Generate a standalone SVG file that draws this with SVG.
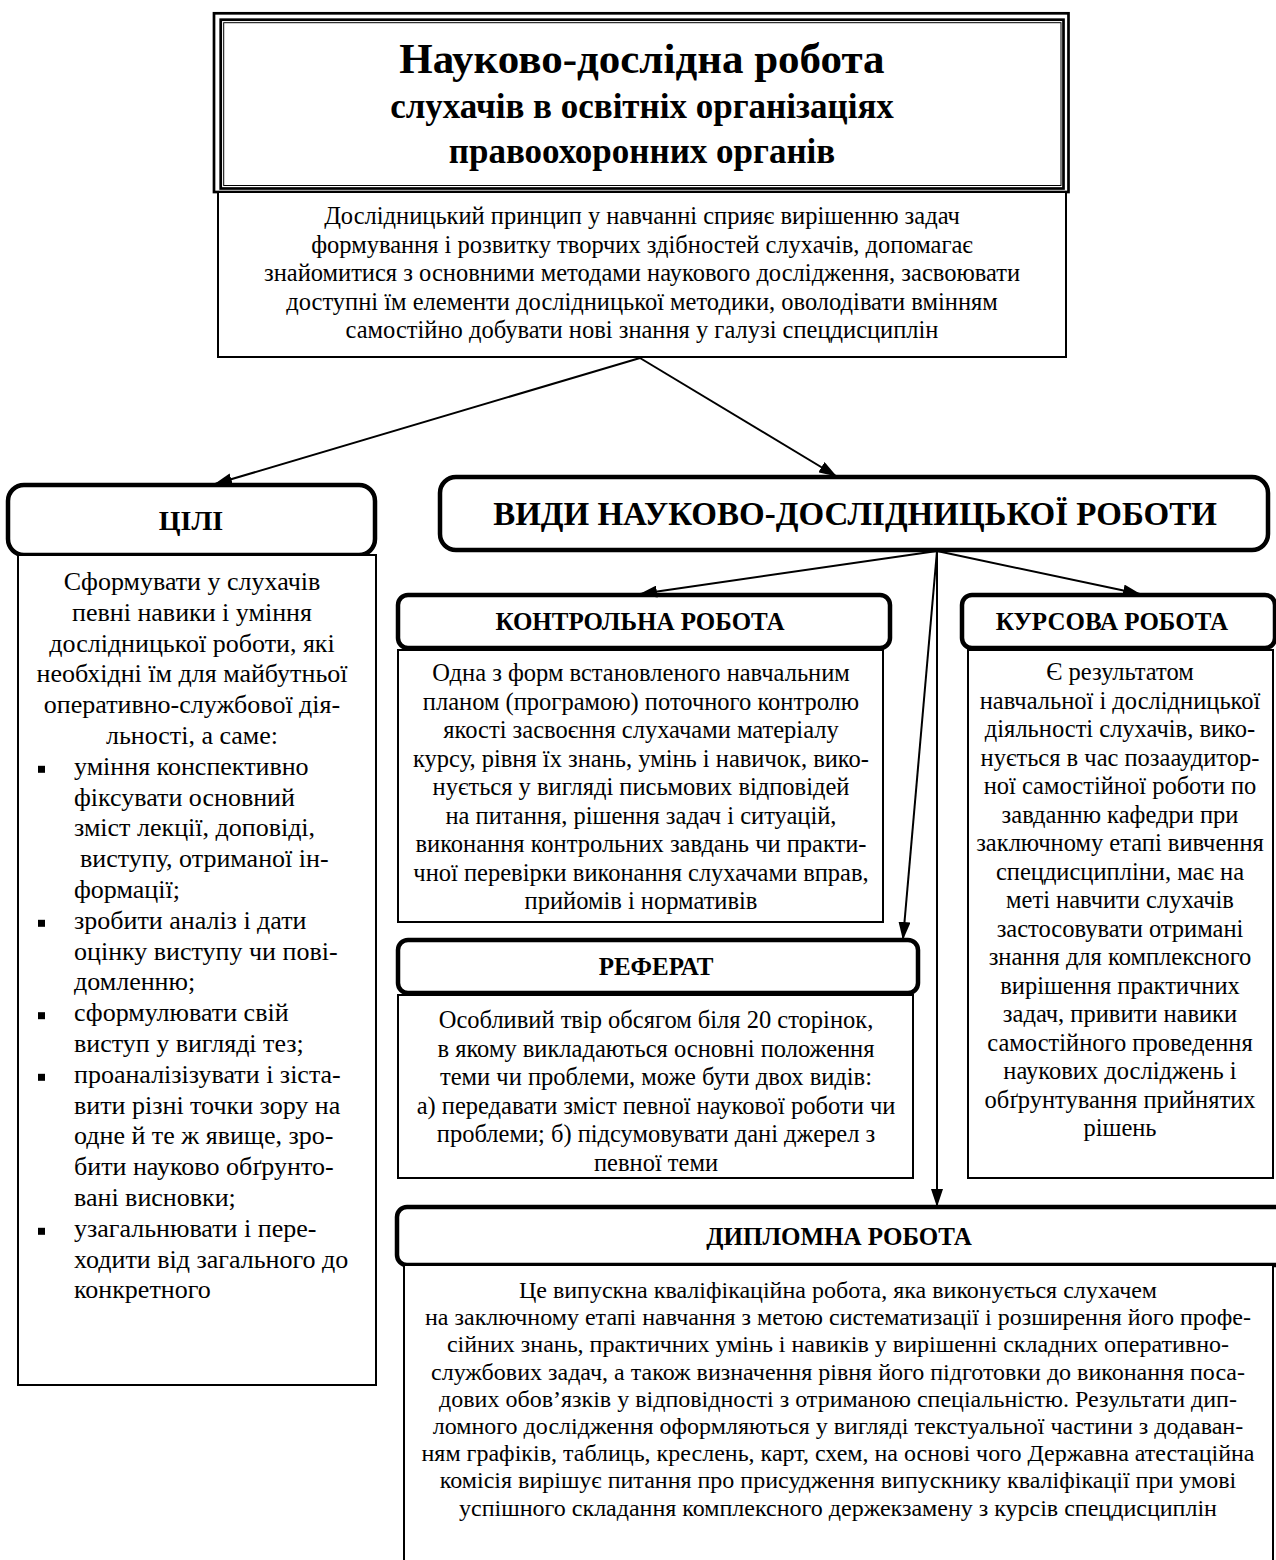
<svg xmlns="http://www.w3.org/2000/svg" width="1276" height="1560" viewBox="0 0 1276 1560">
<defs>
<marker id="arr" markerWidth="18" markerHeight="12" refX="17" refY="6" orient="auto" markerUnits="userSpaceOnUse"><path d="M0,0 L18,6 L0,12 z" fill="#000"/></marker>
</defs>
<style>
.t{font-family:"Liberation Serif","Times New Roman",serif;fill:#000}
.b{font-size:24.5px;text-anchor:middle}
.d{font-size:24px;text-anchor:middle}
.l{font-size:26px}
.c{text-anchor:middle}
.h{font-weight:bold;text-anchor:middle}
.sh{font-size:25px}
.box{fill:#fff;stroke:#000;stroke-width:2}
.hdr{fill:#fff;stroke:#000;stroke-width:4.5}
.con{stroke:#000;stroke-width:2;fill:none;marker-end:url(#arr)}
</style>
<rect width="1276" height="1560" fill="#fff"/>

<g id="title">
<rect x="214" y="13.3" width="854.5" height="178.7" fill="#fff" stroke="#000" stroke-width="2.7"/>
<rect x="220.7" y="19.7" width="842.8" height="168.8" fill="none" stroke="#000" stroke-width="2.7"/>
<rect x="223.7" y="22.7" width="837.3" height="162.8" fill="none" stroke="#000" stroke-width="1"/>
<text class="t h" x="642" y="73" font-size="43">Науково-дослідна робота</text>
<text class="t h" x="642" y="118" font-size="35">слухачів в освітніх  організаціях</text>
<text class="t h" x="642" y="163" font-size="35">правоохоронних органів</text>
</g>

<g id="description">
<rect class="box" x="218" y="192" width="848" height="165" stroke-width="2.5"/>
<text class="t b"><tspan x="642" y="224">Дослідницький принцип у навчанні сприяє вирішенню задач</tspan><tspan x="642" y="252.5">формування і розвитку творчих здібностей слухачів, допомагає</tspan><tspan x="642" y="281">знайомитися з основними методами наукового дослідження, засвоювати</tspan><tspan x="642" y="309.5">доступні їм елементи дослідницької методики, оволодівати вмінням</tspan><tspan x="642" y="338">самостійно добувати нові знання у галузі спецдисциплін</tspan></text>
</g>

<g id="goals-header">
<rect class="hdr" x="8" y="485" width="367" height="70" rx="16"/>
<text class="t h" x="191" y="530" font-size="28">ЦІЛІ</text>
</g>

<g id="goals">
<rect class="box" x="18" y="555" width="358" height="830"/>
<text class="t l c"><tspan x="192" y="590">Сформувати у слухачів</tspan><tspan x="192" y="620.8">певні навики і  уміння</tspan><tspan x="192" y="651.6">дослідницької роботи, які</tspan><tspan x="192" y="682.4">необхідні їм для майбутньої</tspan><tspan x="192" y="713.2">оперативно-службової дія-</tspan><tspan x="192" y="744">льності, а саме:</tspan></text>
<rect x="38" y="765.8" width="7" height="7"/>
<rect x="38" y="919.8" width="7" height="7"/>
<rect x="38" y="1012.2" width="7" height="7"/>
<rect x="38" y="1073.8" width="7" height="7"/>
<rect x="38" y="1227.8" width="7" height="7"/>
<text class="t l"><tspan x="74" y="774.8">уміння конспективно</tspan><tspan x="74" y="805.6">фіксувати основний</tspan><tspan x="74" y="836.4">зміст лекції, доповіді,</tspan><tspan x="80" y="867.2">виступу, отриманої ін-</tspan><tspan x="74" y="898">формації;</tspan><tspan x="74" y="928.8">зробити  аналіз і дати</tspan><tspan x="74" y="959.6">оцінку виступу  чи пові-</tspan><tspan x="74" y="990.4">домленню;</tspan><tspan x="74" y="1021.2">сформулювати  свій</tspan><tspan x="74" y="1052">виступ  у вигляді  тез;</tspan><tspan x="74" y="1082.8">проаналізізувати  і зіста-</tspan><tspan x="74" y="1113.6">вити різні точки зору на</tspan><tspan x="74" y="1144.4">одне й те ж явище, зро-</tspan><tspan x="74" y="1175.2">бити  науково  обґрунто-</tspan><tspan x="74" y="1206">вані висновки;</tspan><tspan x="74" y="1236.8">узагальнювати  і пере-</tspan><tspan x="74" y="1267.6">ходити від загального  до</tspan><tspan x="74" y="1298.4">конкретного</tspan></text>
</g>

<g id="types-header">
<rect class="hdr" x="440" y="477" width="828" height="73" rx="16" stroke-width="5"/>
<text class="t h" x="855" y="525" font-size="33">ВИДИ НАУКОВО-ДОСЛІДНИЦЬКОЇ РОБОТИ</text>
</g>

<g id="control">
<rect class="hdr" x="398" y="595" width="492" height="53" rx="10" stroke-width="4"/>
<text class="t h sh" x="640" y="630">КОНТРОЛЬНА РОБОТА</text>
<rect class="box" x="398" y="650" width="485" height="272"/>
<text class="t b"><tspan x="641" y="681">Одна з форм встановленого навчальним</tspan><tspan x="641" y="709.5">планом (програмою) поточного контролю</tspan><tspan x="641" y="738">якості засвоєння  слухачами матеріалу</tspan><tspan x="641" y="766.5">курсу, рівня їх знань, умінь і навичок, вико-</tspan><tspan x="641" y="795">нується у вигляді  письмових відповідей</tspan><tspan x="641" y="823.5">на питання, рішення задач і ситуацій,</tspan><tspan x="641" y="852">виконання контрольних завдань чи практи-</tspan><tspan x="641" y="880.5">чної перевірки виконання слухачами вправ,</tspan><tspan x="641" y="909">прийомів і нормативів</tspan></text>
</g>

<g id="course">
<rect class="hdr" x="962" y="595" width="313" height="53" rx="10" stroke-width="4"/>
<text class="t h sh" x="1112" y="630">КУРСОВА РОБОТА</text>
<rect class="box" x="968" y="650" width="305" height="528"/>
<text class="t b"><tspan x="1120" y="680">Є  результатом</tspan><tspan x="1120" y="708.5">навчальної і дослідницької</tspan><tspan x="1120" y="737">діяльності  слухачів, вико-</tspan><tspan x="1120" y="765.5">нується в час позааудитор-</tspan><tspan x="1120" y="794">ної самостійної роботи по</tspan><tspan x="1120" y="822.5">завданню кафедри  при</tspan><tspan x="1120" y="851">заключному етапі вивчення</tspan><tspan x="1120" y="879.5">спецдисципліни, має на</tspan><tspan x="1120" y="908">меті навчити  слухачів</tspan><tspan x="1120" y="936.5">застосовувати отримані</tspan><tspan x="1120" y="965">знання для комплексного</tspan><tspan x="1120" y="993.5">вирішення практичних</tspan><tspan x="1120" y="1022">задач, привити навики</tspan><tspan x="1120" y="1050.5">самостійного проведення</tspan><tspan x="1120" y="1079">наукових  досліджень і</tspan><tspan x="1120" y="1107.5">обґрунтування прийнятих</tspan><tspan x="1120" y="1136">рішень</tspan></text>
</g>

<g id="essay">
<rect class="hdr" x="398" y="940" width="520" height="53" rx="10" stroke-width="4"/>
<text class="t h sh" x="656" y="975">РЕФЕРАТ</text>
<rect class="box" x="398" y="995" width="515" height="183"/>
<text class="t b"><tspan x="656" y="1028">Особливий  твір обсягом біля  20 сторінок,</tspan><tspan x="656" y="1056.5">в якому  викладаються основні положення</tspan><tspan x="656" y="1085">теми чи проблеми, може бути двох видів:</tspan><tspan x="656" y="1113.5">а) передавати зміст певної наукової  роботи чи</tspan><tspan x="656" y="1142">проблеми; б) підсумовувати  дані джерел з</tspan><tspan x="656" y="1170.5">певної теми</tspan></text>
</g>

<g id="diploma">
<rect class="hdr" x="397" y="1207" width="910" height="58" rx="10" stroke-width="4"/>
<text class="t h sh" x="839" y="1245">ДИПЛОМНА РОБОТА</text>
<rect class="box" x="404" y="1265" width="869" height="320"/>
<text class="t d"><tspan x="838" y="1298">Це випускна кваліфікаційна  робота,  яка виконується  слухачем</tspan><tspan x="838" y="1325.2">на заключному  етапі навчання з метою систематизації і розширення його профе-</tspan><tspan x="838" y="1352.4">сійних знань, практичних умінь і навиків у вирішенні складних оперативно-</tspan><tspan x="838" y="1379.6">службових  задач, а також визначення рівня його підготовки до виконання поса-</tspan><tspan x="838" y="1406.8">дових обов’язків  у відповідності  з отриманою  спеціальністю. Результати дип-</tspan><tspan x="838" y="1434">ломного дослідження оформляються у вигляді  текстуальної частини з додаван-</tspan><tspan x="838" y="1461.2">ням графіків, таблиць, креслень, карт, схем, на основі чого Державна атестаційна</tspan><tspan x="838" y="1488.4">комісія вирішує питання про присудження випускнику кваліфікації при умові</tspan><tspan x="838" y="1515.6">успішного  складання  комплексного держекзамену з курсів спецдисциплін</tspan></text>
</g>

<g id="connectors">
<line class="con" x1="640" y1="358" x2="215" y2="484"/>
<line class="con" x1="640" y1="358" x2="836" y2="476"/>
<line class="con" x1="937" y1="551" x2="640" y2="594"/>
<line class="con" x1="937" y1="551" x2="1140" y2="594"/>
<line class="con" x1="937" y1="551" x2="903" y2="939"/>
<line class="con" x1="937" y1="551" x2="937" y2="1206"/>
</g>
</svg>
